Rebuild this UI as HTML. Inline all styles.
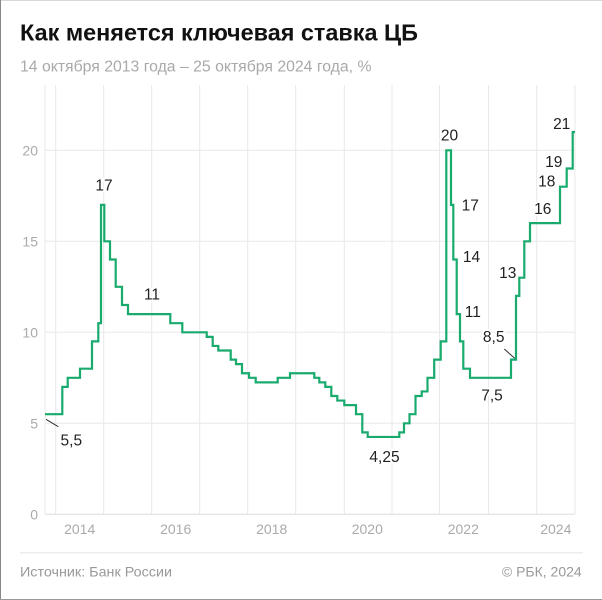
<!DOCTYPE html>
<html><head><meta charset="utf-8"><style>
html,body{margin:0;padding:0;background:#fff;}
svg{display:block;}
text{font-family:"Liberation Sans","Noto Sans CJK SC",sans-serif;}
.yl{font-size:14px;fill:#aaa;text-anchor:end;}
.xl{font-size:14px;fill:#aaa;text-anchor:middle;}
.an{font-size:15.5px;fill:#222;text-anchor:middle;stroke:#fff;stroke-width:4px;paint-order:stroke;stroke-linejoin:round;}
</style></head><body>
<svg width="602" height="600" viewBox="0 0 602 600" xmlns="http://www.w3.org/2000/svg">
<rect x="0" y="0" width="602" height="600" fill="#fff"/>
<line x1="0" y1="0.5" x2="602" y2="0.5" stroke="#d8d8d8" stroke-width="1"/>
<line x1="0.5" y1="0" x2="0.5" y2="600" stroke="#888" stroke-width="1"/>
<line x1="0" y1="599.5" x2="602" y2="599.5" stroke="#999" stroke-width="1"/>

<text x="20" y="40.7" font-size="23" font-weight="bold" fill="#111" textLength="398" lengthAdjust="spacingAndGlyphs">Как меняется ключевая ставка ЦБ</text>
<text x="20" y="71.7" font-size="15.5" fill="#a9a9a9" textLength="351.5" lengthAdjust="spacingAndGlyphs">14 октября 2013 года – 25 октября 2024 года, %</text>

<g stroke="#e8e8e8" stroke-width="1" fill="none">
<line x1="45" y1="85" x2="45" y2="514.3"/>
<line x1="55.7" y1="85" x2="55.7" y2="514.3"/>
<line x1="103.7" y1="85" x2="103.7" y2="514.3"/>
<line x1="151.7" y1="85" x2="151.7" y2="514.3"/>
<line x1="199.7" y1="85" x2="199.7" y2="514.3"/>
<line x1="247.7" y1="85" x2="247.7" y2="514.3"/>
<line x1="295.7" y1="85" x2="295.7" y2="514.3"/>
<line x1="344.3" y1="85" x2="344.3" y2="514.3"/>
<line x1="392" y1="85" x2="392" y2="514.3"/>
<line x1="439.5" y1="85" x2="439.5" y2="514.3"/>
<line x1="488.5" y1="85" x2="488.5" y2="514.3"/>
<line x1="536.7" y1="85" x2="536.7" y2="514.3"/>
<line x1="575" y1="85" x2="575" y2="514.3"/>
<line x1="45" y1="150.3" x2="575" y2="150.3"/>
<line x1="45" y1="241.3" x2="575" y2="241.3"/>
<line x1="45" y1="332.3" x2="575" y2="332.3"/>
<line x1="45" y1="423.3" x2="575" y2="423.3"/>
<line x1="45" y1="514.3" x2="575" y2="514.3" stroke-width="1.5"/>
</g>

<text class="yl" x="38" y="155.3">20</text>
<text class="yl" x="38" y="246.3">15</text>
<text class="yl" x="38" y="337.3">10</text>
<text class="yl" x="38" y="428.3">5</text>
<text class="yl" x="38" y="519.3">0</text>

<text class="xl" x="79.7" y="534">2014</text>
<text class="xl" x="175.7" y="534">2016</text>
<text class="xl" x="271.7" y="534">2018</text>
<text class="xl" x="367.3" y="534">2020</text>
<text class="xl" x="463.3" y="534">2022</text>
<text class="xl" x="555.8" y="534">2024</text>

<path id="ln" fill="none" stroke="#19ab6e" stroke-width="2.2" stroke-linejoin="miter" d=""/>

<line x1="46" y1="419.3" x2="58.3" y2="426.7" stroke="#333" stroke-width="1"/>
<line x1="504.3" y1="349" x2="514.7" y2="358.3" stroke="#333" stroke-width="1"/>

<text class="an" x="104" y="190.5">17</text>
<text class="an" x="152" y="299.5">11</text>
<text class="an" x="71.3" y="445.5">5,5</text>
<text class="an" x="384.5" y="462">4,25</text>
<text class="an" x="492" y="400.5">7,5</text>
<text class="an" x="449.5" y="140.5">20</text>
<text class="an" x="470.3" y="210.5">17</text>
<text class="an" x="471.5" y="262">14</text>
<text class="an" x="472.8" y="317">11</text>
<text class="an" x="493.7" y="342">8,5</text>
<text class="an" x="507.8" y="278">13</text>
<text class="an" x="542.8" y="213.8">16</text>
<text class="an" x="546.8" y="186.5">18</text>
<text class="an" x="553.8" y="167">19</text>
<text class="an" x="561.7" y="128.8">21</text>

<line x1="20" y1="552.7" x2="582.7" y2="552.7" stroke="#ececec" stroke-width="1.5"/>
<text x="20" y="576.5" font-size="14" fill="#999" textLength="152" lengthAdjust="spacingAndGlyphs">Источник: Банк России</text>
<text x="581.7" y="576.5" font-size="14" fill="#999" text-anchor="end">© РБК, 2024</text>
</svg>
<script>
(function(){
var s=[[45,5.5],[62.3,7],[67.7,7.5],[80,8],[92,9.5],[98.3,10.5],[101,17],[104.3,15],[110,14],[115.7,12.5],[122,11.5],[128,11],[170.3,10.5],[182.3,10],[206.7,9.75],[212.7,9.25],[218.3,9],[230.7,8.5],[236,8.25],[242,7.75],[249,7.5],[255.7,7.25],[277.7,7.5],[290,7.75],[314.3,7.5],[319.3,7.25],[325.3,7],[331.3,6.5],[337.3,6.25],[344.3,6],[356,5.5],[362.3,4.5],[367.7,4.25],[399.3,4.5],[404,5],[409.5,5.5],[415.5,6.5],[421.7,6.75],[427.5,7.5],[434.2,8.5],[440.7,9.5],[446.3,20],[451,17],[453.3,14],[456.7,11],[460,9.5],[463.3,8],[470,7.5],[511,8.5],[516,12],[519.3,13],[524.3,15],[530,16],[560,18],[566.7,19],[572.7,21]];
function y(v){return (514.3-18.2*v).toFixed(2);}
var d="M"+s[0][0]+" "+y(s[0][1]);
for(var i=1;i<s.length;i++){d+=" H"+s[i][0]+" V"+y(s[i][1]);}
d+=" H575";
document.getElementById("ln").setAttribute("d",d);
})();
</script>
</body></html>
